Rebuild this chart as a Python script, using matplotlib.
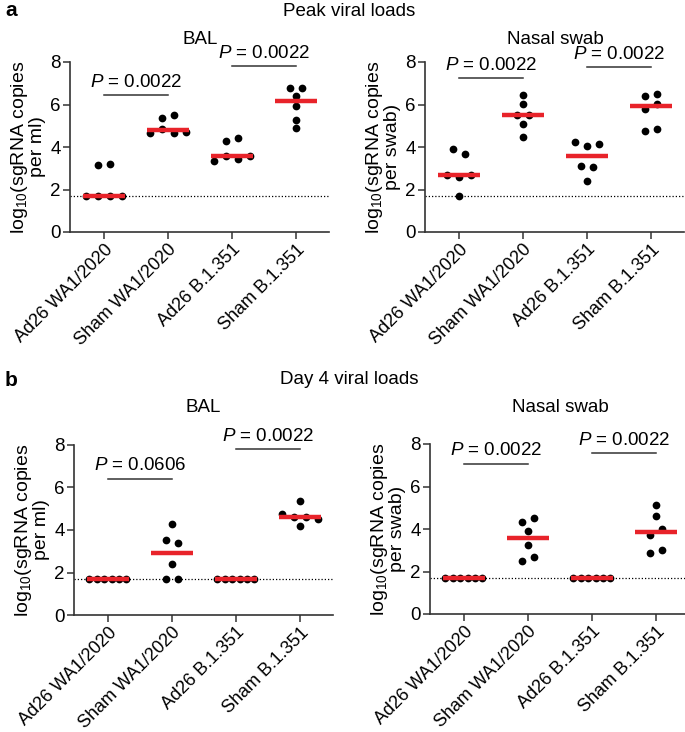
import numpy as np
import matplotlib
matplotlib.use("Agg")
import matplotlib.pyplot as plt

plt.rcParams['font.family'] = ['Liberation Sans', 'DejaVu Sans']
plt.rcParams['mathtext.fontset'] = 'custom'
plt.rcParams['mathtext.rm'] = 'Liberation Sans'
plt.rcParams['mathtext.it'] = 'Liberation Sans:italic'

categories = ["Ad26 WA1/2020", "Sham WA1/2020", "Ad26 B.1.351", "Sham B.1.351"]

# Peak viral loads - BAL
peak_bal = [
    [1.70, 1.70, 1.70, 1.70, 3.14, 3.22],
    [4.67, 4.86, 4.67, 4.70, 5.38, 5.50],
    [3.36, 3.60, 3.45, 3.60, 4.27, 4.42],
    [6.78, 6.78, 6.38, 5.95, 5.25, 4.90],
]
# Peak viral loads - Nasal swab
peak_nasal = [
    [3.89, 3.65, 2.67, 2.59, 2.67, 1.71],
    [6.46, 6.02, 5.50, 5.50, 5.07, 4.45],
    [4.24, 4.06, 4.16, 3.09, 3.06, 2.42],
    [6.42, 6.49, 5.79, 6.04, 4.74, 4.85],
]
# Day 4 viral loads - BAL
day4_bal = [
    [1.70, 1.70, 1.70, 1.70, 1.70, 1.70],
    [4.27, 3.53, 3.38, 2.42, 1.71, 1.71],
    [1.70, 1.70, 1.70, 1.70, 1.70, 1.70],
    [5.37, 4.74, 4.62, 4.60, 4.54, 4.19],
]
# Day 4 viral loads - Nasal swab
day4_nasal = [
    [1.70, 1.70, 1.70, 1.70, 1.70, 1.70],
    [4.33, 4.52, 3.89, 3.23, 2.51, 2.68],
    [1.70, 1.70, 1.70, 1.70, 1.70, 1.70],
    [5.11, 4.62, 3.70, 3.98, 2.88, 3.02],
]

p_peak_bal = ["0.0022", "0.0022"]
p_peak_nasal = ["0.0022", "0.0022"]
p_day4_bal = ["0.0606", "0.0022"]
p_day4_nasal = ["0.0022", "0.0022"]

lod = 1.7
yticks = [0, 2, 4, 6, 8]


def swarm_offsets(vals, gap=0.3, step=0.19, maxw=0.58):
    vals = np.asarray(vals)
    order = np.argsort(vals, kind="stable")
    rows, cur = [], [order[0]]
    for i in order[1:]:
        if vals[i] - vals[cur[-1]] < gap:
            cur.append(i)
        else:
            rows.append(cur)
            cur = [i]
    rows.append(cur)
    offs = np.zeros(len(vals))
    for r in rows:
        n = len(r)
        s = step if n <= 1 else min(step, maxw / (n - 1))
        for k, idx in enumerate(sorted(r)):
            offs[idx] = (k - (n - 1) / 2) * s
    return offs


def panel(ax, data, pvals, bracket_y, ylabel):
    for gi, vals in enumerate(data):
        offs = swarm_offsets(vals)
        ax.scatter(gi + offs, vals, s=31, color="black", zorder=3, linewidths=0)
        med = np.median(vals)
        ax.plot([gi - 0.33, gi + 0.33], [med, med], color="#e8232a", lw=3.2,
                solid_capstyle="butt", zorder=4)
    ax.axhline(lod, color="black", ls=(0, (1, 1.6)), lw=0.9, zorder=1)
    for (a, b), py, ptxt in zip([(0, 1), (2, 3)], bracket_y, pvals):
        ax.plot([a, b], [py, py], color="#333333", lw=1.1, clip_on=False)
        ax.annotate(r"$\mathit{P}$ = " + ptxt, xy=((a + b) / 2, py), xytext=(0, 3),
                    textcoords="offset points", ha="center", va="bottom",
                    fontsize=13.5, annotation_clip=False)
    ax.set_xlim(-0.53, 3.52)
    ax.set_ylim(0, 8)
    ax.set_yticks(yticks)
    ax.set_xticks(range(len(categories)))
    ax.set_xticklabels(categories, rotation=45, ha="right", rotation_mode="anchor",
                       fontsize=13)
    ax.tick_params(axis="y", labelsize=13.5, length=5, width=1.1, color="#333333", pad=1.5)
    ax.tick_params(axis="x", length=5, width=1.1, color="#333333", pad=1.5)
    for s in ["top", "right"]:
        ax.spines[s].set_visible(False)
    for s in ["left", "bottom"]:
        ax.spines[s].set_linewidth(1.2)
        ax.spines[s].set_color("#333333")
    ax.set_ylabel(ylabel, fontsize=14, labelpad=3, linespacing=0.95)


fig = plt.figure(figsize=(6.85, 7.32), dpi=100)
W, H = 685, 732
aw, ah = 259 / W, 170 / H

ax1 = fig.add_axes([70 / W, 1 - 232 / H, aw, ah])
ax2 = fig.add_axes([425 / W, 1 - 232 / H, aw, ah])
ax3 = fig.add_axes([74 / W, 1 - 615 / H, aw, ah])
ax4 = fig.add_axes([430 / W, 1 - 614 / H, aw, ah])

lab_ml = "log$_{10}$(sgRNA copies\nper ml)"
lab_sw = "log$_{10}$(sgRNA copies\nper swab)"
panel(ax1, peak_bal, p_peak_bal, [6.43, 7.81], lab_ml)
panel(ax2, peak_nasal, p_peak_nasal, [7.26, 7.76], lab_sw)
panel(ax3, day4_bal, p_day4_bal, [6.42, 7.80], lab_ml)
panel(ax4, day4_nasal, p_day4_nasal, [7.08, 7.57], lab_sw)

fig.text(5 / W, 1 - 11 / H, "a", fontsize=15, fontweight="bold", va="center")
fig.text(349 / W, 1 - 11 / H, "Peak viral loads", fontsize=13.5, ha="center", va="center")
fig.text(200 / W, 1 - 40 / H, "BAL", fontsize=13.5, ha="center", va="center")
fig.text(555 / W, 1 - 40 / H, "Nasal swab", fontsize=13.5, ha="center", va="center")

fig.text(5 / W, 1 - 380 / H, "b", fontsize=15, fontweight="bold", va="center")
fig.text(349 / W, 1 - 380 / H, "Day 4 viral loads", fontsize=13.5, ha="center", va="center")
fig.text(203 / W, 1 - 407 / H, "BAL", fontsize=13.5, ha="center", va="center")
fig.text(560 / W, 1 - 407 / H, "Nasal swab", fontsize=13.5, ha="center", va="center")

fig.savefig("out.png", dpi=100)
